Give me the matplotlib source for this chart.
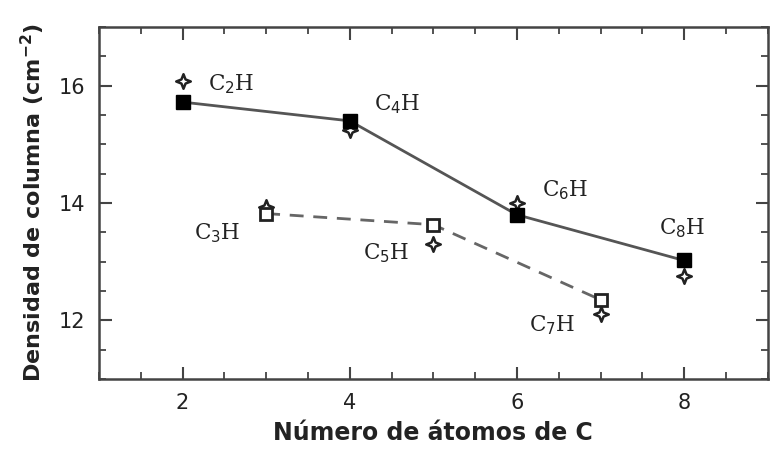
import matplotlib
matplotlib.use("Agg")
import matplotlib.pyplot as plt
from matplotlib.path import Path
from matplotlib.ticker import MultipleLocator

# Column densities (log10 cm^-2)
even_n = [2, 4, 6, 8]
even_obs = [15.72, 15.40, 13.80, 13.02]
odd_n = [3, 5, 7]
odd_obs = [13.82, 13.63, 12.35]

star_n = [2, 3, 4, 5, 6, 7, 8]
star_model = [16.08, 13.93, 15.25, 13.30, 14.00, 12.11, 12.75]

label_text = ["C$_2$H", "C$_3$H", "C$_4$H", "C$_5$H", "C$_6$H", "C$_7$H", "C$_8$H"]
label_x = [2.30, 2.14, 4.29, 4.16, 6.30, 6.14, 7.70]
label_y = [16.02, 13.48, 15.68, 13.14, 14.22, 11.92, 13.57]

# open four-pointed star
star_path = Path(
    [(0, 1), (0.28, 0.28), (1, 0), (0.28, -0.28), (0, -1),
     (-0.28, -0.28), (-1, 0), (-0.28, 0.28), (0, 1)],
    [Path.MOVETO] + [Path.LINETO] * 7 + [Path.CLOSEPOLY],
)

fig = plt.figure(figsize=(7.71, 4.57), dpi=100)
ax = fig.add_axes([0.1284, 0.1707, 0.8673, 0.7702])

ax.plot(star_n, star_model, linestyle="none", marker=star_path, markersize=10.5,
        markerfacecolor="white", markeredgecolor="#222222", markeredgewidth=1.8, zorder=3)
ax.plot(even_n, even_obs, color="#555555", linewidth=2, marker="s", markersize=10,
        markerfacecolor="black", markeredgecolor="black", zorder=4)
ax.plot(odd_n, odd_obs, color="#666666", linewidth=2, linestyle=(0, (5, 3.5)), marker="s",
        markersize=9, markerfacecolor="white", markeredgecolor="#222222",
        markeredgewidth=2, zorder=4)

for t, x, y in zip(label_text, label_x, label_y):
    ax.text(x, y, t, fontsize=15.5, family="DejaVu Serif", color="#222222",
            ha="left", va="center")

ax.set_xlim(1, 9)
ax.set_ylim(11, 17)
ax.xaxis.set_major_locator(MultipleLocator(2))
ax.xaxis.set_minor_locator(MultipleLocator(0.5))
ax.yaxis.set_major_locator(MultipleLocator(2))
ax.yaxis.set_minor_locator(MultipleLocator(0.5))
ax.tick_params(which="both", direction="in", top=True, right=True, color="#444444",
               labelsize=15, labelcolor="#222222", pad=10)
ax.tick_params(which="major", length=9, width=1.5)
ax.tick_params(which="minor", length=5, width=1.3)
for s in ax.spines.values():
    s.set_color("#444444")
    s.set_linewidth(1.8)

ax.set_xlabel("Número de átomos de C", fontsize=17, fontweight="bold", color="#222222", labelpad=6)
ax.set_ylabel("Densidad de columna (cm$^{\\mathbf{-2}}$)", fontsize=16, fontweight="bold",
              color="#222222", labelpad=8)

fig.savefig("out.png", dpi=100)
